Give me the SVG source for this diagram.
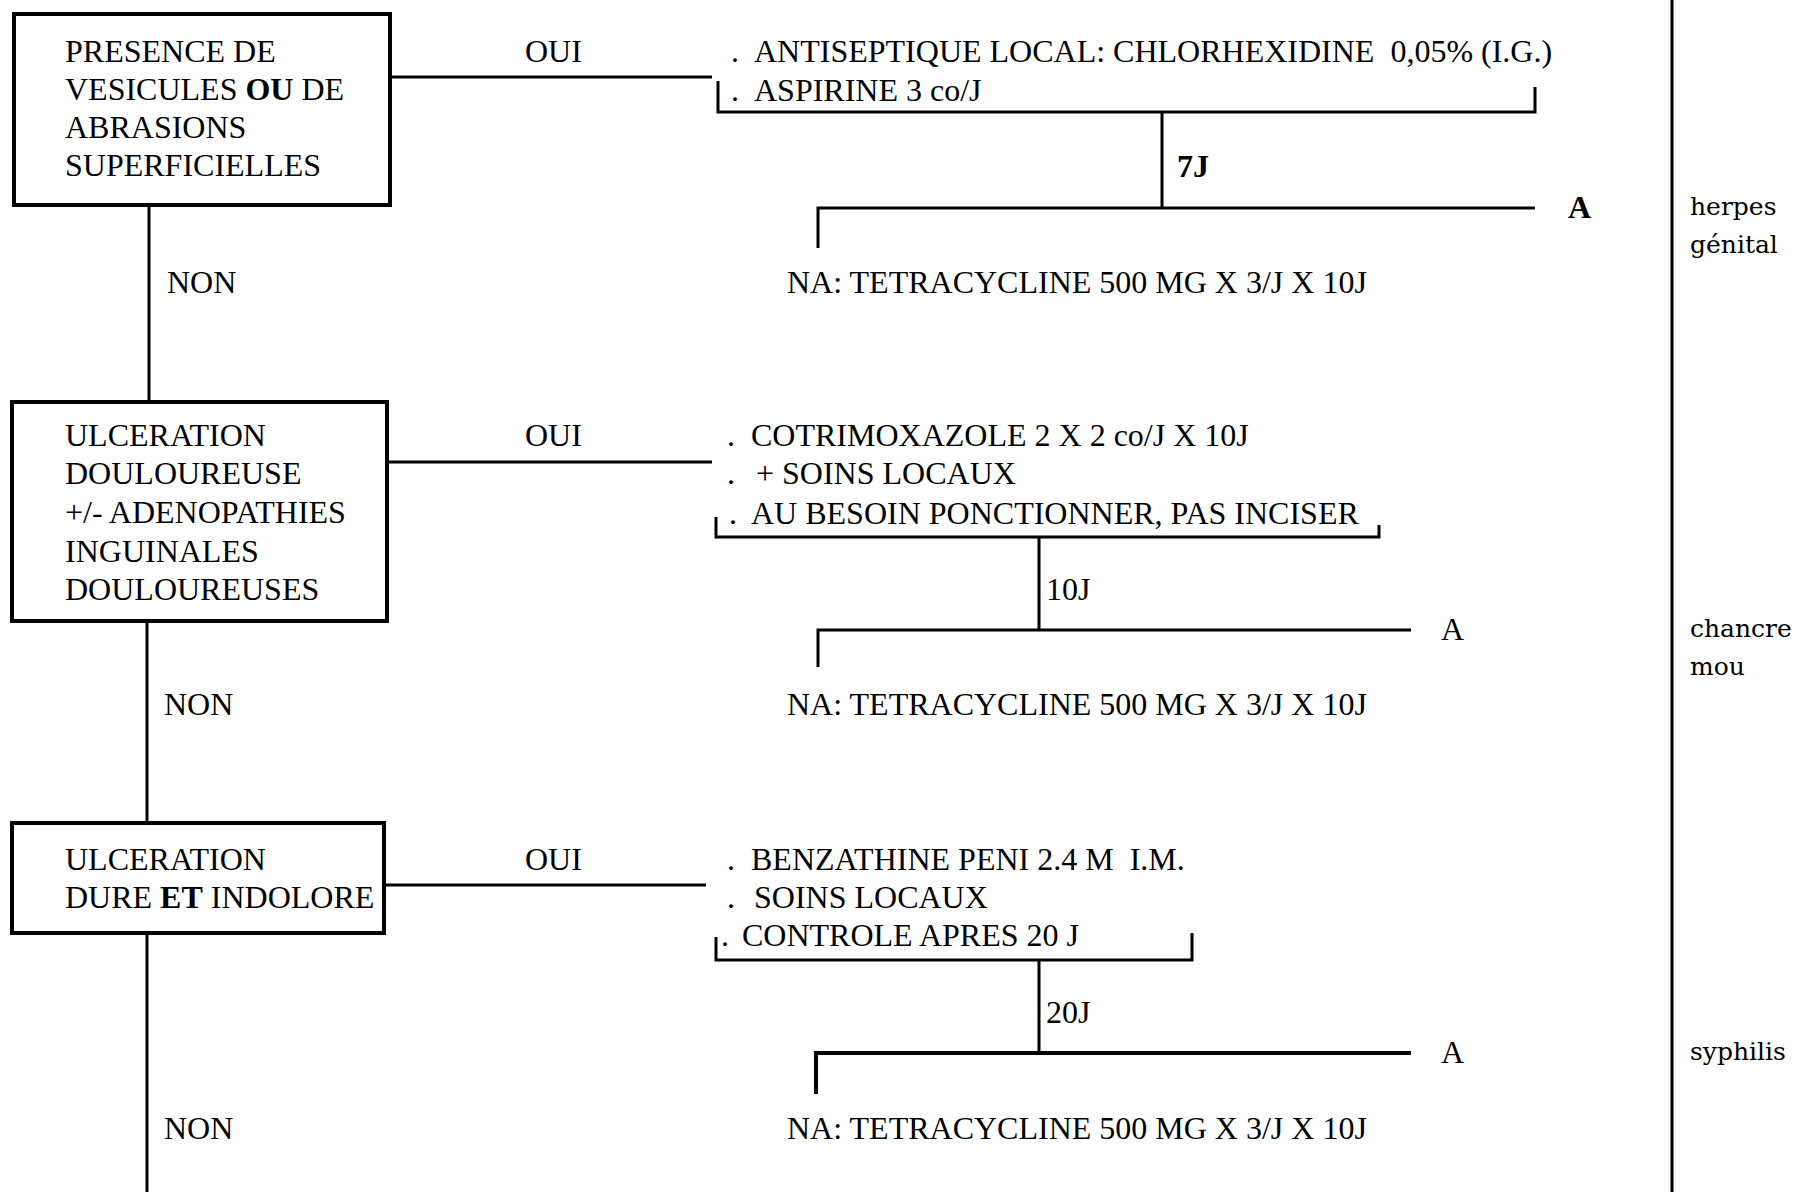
<svg xmlns="http://www.w3.org/2000/svg" width="1810" height="1192" viewBox="0 0 1810 1192">
<style>
.t{font-family:"Liberation Serif","Times New Roman",serif;font-size:32px;fill:#000;white-space:pre}
.b{font-weight:bold}
.lab{font-family:"DejaVu Serif",serif;font-size:25px;fill:#000}
.box{fill:#fff;stroke:#000;stroke-width:4}
.ln{fill:none;stroke:#000;stroke-width:3}
</style>
<rect width="1810" height="1192" fill="#fff"/>
<g id="connectors">
<path class="ln" d="M390 77H712"/>
<path class="ln" d="M149 205V402"/>
<path class="ln" d="M718 81V112H1535V87"/>
<path class="ln" d="M1162 112V208"/>
<path class="ln" d="M818 248V208H1535"/>
<path class="ln" d="M387 462H712"/>
<path class="ln" d="M147 621V823"/>
<path class="ln" d="M716 517V537H1379V525"/>
<path class="ln" d="M1039 537V630"/>
<path class="ln" d="M818 667V630H1411"/>
<path class="ln" d="M384 885H706"/>
<path class="ln" d="M147 933V1192"/>
<path class="ln" d="M716 937V960H1192V933"/>
<path class="ln" d="M1039 960V1053"/>
<path class="ln" style="stroke-width:4" d="M816 1094V1053H1411"/>
<path class="ln" d="M1672 0V1192"/>
</g>
<g id="node-q1">
<rect class="box" x="14" y="14" width="376" height="191"/>
<text class="t" x="65" y="62">PRESENCE DE</text>
<text class="t" x="65" y="100">VESICULES <tspan class="b">OU</tspan> DE</text>
<text class="t" x="65" y="138">ABRASIONS</text>
<text class="t" x="65" y="176">SUPERFICIELLES</text>
</g>
<g id="node-q2">
<rect class="box" x="12" y="402" width="375" height="219"/>
<text class="t" x="65" y="446">ULCERATION</text>
<text class="t" x="65" y="484">DOULOUREUSE</text>
<text class="t" x="65" y="523">+/- ADENOPATHIES</text>
<text class="t" x="65" y="562">INGUINALES</text>
<text class="t" x="65" y="600">DOULOUREUSES</text>
</g>
<g id="node-q3">
<rect class="box" x="12" y="823" width="372" height="110"/>
<text class="t" x="65" y="870">ULCERATION</text>
<text class="t" x="65" y="908">DURE <tspan class="b">ET</tspan> INDOLORE</text>
</g>
<g id="labels">
<text class="t" x="525" y="62">OUI</text>
<text class="t" x="167" y="293">NON</text>
<text class="t" x="525" y="446">OUI</text>
<text class="t" x="164" y="715">NON</text>
<text class="t" x="525" y="870">OUI</text>
<text class="t" x="164" y="1139">NON</text>
<text class="t b" x="1177" y="177">7J</text>
<text class="t" x="1046" y="600">10J</text>
<text class="t" x="1046" y="1023">20J</text>
<text class="t b" x="1568" y="218">A</text>
<text class="t" x="1441" y="640">A</text>
<text class="t" x="1441" y="1063">A</text>
</g>
<g id="node-t1">
<text class="t" x="731" y="62">.</text><text class="t" x="754" y="62">ANTISEPTIQUE LOCAL: CHLORHEXIDINE  0,05% (I.G.)</text>
<text class="t" x="731" y="101">.</text><text class="t" x="754" y="101">ASPIRINE 3 co/J</text>
<text class="t" x="787" y="293">NA: TETRACYCLINE 500 MG X 3/J X 10J</text>
</g>
<g id="node-t2">
<text class="t" x="727" y="446">.</text><text class="t" x="751" y="446">COTRIMOXAZOLE 2 X 2 co/J X 10J</text>
<text class="t" x="727" y="484">.</text><text class="t" x="756" y="484">+ SOINS LOCAUX</text>
<text class="t" x="729" y="524">.</text><text class="t" x="751" y="524">AU BESOIN PONCTIONNER, PAS INCISER</text>
<text class="t" x="787" y="715">NA: TETRACYCLINE 500 MG X 3/J X 10J</text>
</g>
<g id="node-t3">
<text class="t" x="727" y="870">.</text><text class="t" x="751" y="870">BENZATHINE PENI 2.4 M  I.M.</text>
<text class="t" x="727" y="908">.</text><text class="t" x="754" y="908">SOINS LOCAUX</text>
<text class="t" x="721" y="946">.</text><text class="t" x="742" y="946">CONTROLE APRES 20 J</text>
<text class="t" x="787" y="1139">NA: TETRACYCLINE 500 MG X 3/J X 10J</text>
</g>
<g id="diagnoses">
<text class="lab" x="1690" y="215">herpes</text>
<text class="lab" x="1690" y="253">génital</text>
<text class="lab" x="1690" y="637">chancre</text>
<text class="lab" x="1690" y="675">mou</text>
<text class="lab" x="1690" y="1060">syphilis</text>
</g>
</svg>
